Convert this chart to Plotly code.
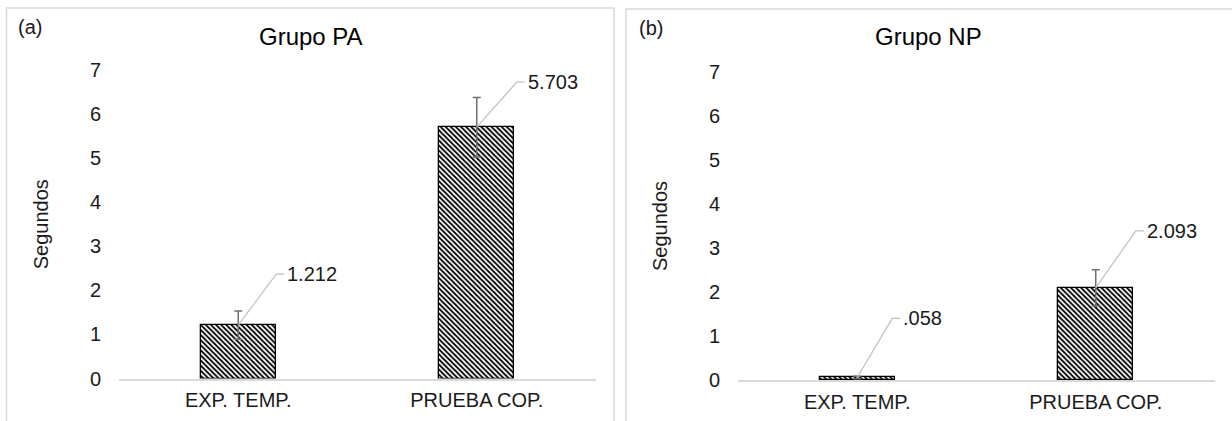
import plotly.graph_objects as go

# --- data -----------------------------------------------------------------
categories = ["EXP. TEMP.", "PRUEBA COP."]
pa_mean = [1.212, 5.703]
pa_err = [0.32, 0.675]
np_mean = [0.058, 2.093]
np_err = [0.03, 0.41]
y_ticks = [0, 1, 2, 3, 4, 5, 6, 7]

# --- page geometry (pixels) -------------------------------------------------
W, H = 1232, 421
FONT = "Liberation Sans, Arial, sans-serif"
TXT = "#1a1a1a"
GRID = "#d9d9d9"


def px(x):
    return x / W


def py(y):
    return 1 - y / H


panels = [
    dict(tag="(a)", title="Grupo PA", mean=pa_mean, err=pa_err, ax="",
         frame=(6.5, 614, 8), title_x=310.5, plot_x=(119, 596), plot_y=(70, 378.5),
         tag_xy=(16, 27), ytitle_x=41,
         leader=[(38, 51), (40, 45)]),
    dict(tag="(b)", title="Grupo NP", mean=np_mean, err=np_err, ax="2",
         frame=(626, 1240, 9), title_x=928.5, plot_x=(738, 1215), plot_y=(72, 380),
         tag_xy=(637, 28), ytitle_x=660,
         leader=[(35, 59), (40, 57)]),
]


def fmt(v):
    s = f"{v:.3f}"
    return s[1:] if s.startswith("0") else s


fig = go.Figure()
shapes, annotations = [], []
layout_axes = {}

for p in panels:
    xname, yname = "x" + p["ax"], "y" + p["ax"]
    xs = list(range(len(categories)))
    fig.add_trace(go.Bar(
        x=xs, y=p["mean"], xaxis=xname, yaxis=yname, width=0.315,
        marker=dict(color="white",
                    line=dict(color="black", width=1.3),
                    pattern=dict(shape="\\", fgcolor="black", bgcolor="white",
                                 size=3.6, solidity=0.5)),
        error_y=dict(type="data", array=p["err"], visible=True,
                     color="#707070", thickness=1.5, width=4),
        showlegend=False, hoverinfo="skip",
    ))

    layout_axes["xaxis" + p["ax"]] = dict(
        domain=[px(p["plot_x"][0]), px(p["plot_x"][1])], range=[-0.5, 1.5],
        anchor=yname, tickvals=xs, ticktext=categories, showgrid=False,
        zeroline=False, showline=True, linecolor=GRID, linewidth=1.5,
        ticks="", ticklabelstandoff=3, automargin=False,
        tickfont=dict(family=FONT, size=20, color=TXT), fixedrange=True,
    )
    layout_axes["yaxis" + p["ax"]] = dict(
        domain=[py(p["plot_y"][1]), py(p["plot_y"][0])], range=[0, 7],
        anchor=xname, tickvals=y_ticks, showgrid=False, zeroline=False,
        showline=False, ticks="", ticklabelstandoff=17, automargin=False,
        tickfont=dict(family=FONT, size=20, color=TXT), fixedrange=True,
    )

    # panel frame
    fx0, fx1, fy = p["frame"]
    shapes.append(dict(type="rect", xref="paper", yref="paper",
                       x0=px(fx0), x1=px(fx1), y0=-0.05, y1=py(fy),
                       line=dict(color=GRID, width=1.5), fillcolor="rgba(0,0,0,0)",
                       layer="below"))

    # value labels with elbow leader lines
    for i, (v, (dx, dy)) in enumerate(zip(p["mean"], p["leader"])):
        shapes.append(dict(type="path", xref=xname, yref=yname,
                           xsizemode="pixel", ysizemode="pixel",
                           xanchor=i, yanchor=v,
                           path=f"M0,0 L{dx},{dy} L{dx + 8},{dy}",
                           line=dict(color="#c0c0c0", width=1.2)))
        annotations.append(dict(xref=xname, yref=yname, x=i, y=v,
                                xshift=dx + 9, yshift=dy, xanchor="left",
                                yanchor="middle", showarrow=False, text=fmt(v),
                                font=dict(family=FONT, size=20, color=TXT)))

    # panel tag, title and y-axis title
    annotations.append(dict(xref="paper", yref="paper", x=px(p["tag_xy"][0]),
                            y=py(p["tag_xy"][1]), xanchor="left", yanchor="middle",
                            showarrow=False, text=p["tag"],
                            font=dict(family=FONT, size=20, color=TXT)))
    annotations.append(dict(xref="paper", yref="paper", x=px(p["title_x"]), y=py(37),
                            xanchor="center", yanchor="middle", showarrow=False,
                            text=p["title"],
                            font=dict(family=FONT, size=24, color="black")))
    annotations.append(dict(xref="paper", yref="paper", x=px(p["ytitle_x"]),
                            y=py((p["plot_y"][0] + p["plot_y"][1]) / 2),
                            xanchor="center", yanchor="middle", showarrow=False,
                            text="Segundos", textangle=-90,
                            font=dict(family=FONT, size=20, color=TXT)))

fig.update_layout(
    template="none",
    width=W, height=H, autosize=False,
    margin=dict(l=0, r=0, t=0, b=0, pad=0),
    paper_bgcolor="white", plot_bgcolor="rgba(0,0,0,0)",
    shapes=shapes, annotations=annotations, bargap=0,
    **layout_axes,
)

fig.write_html("out.html", config={"displayModeBar": False})
